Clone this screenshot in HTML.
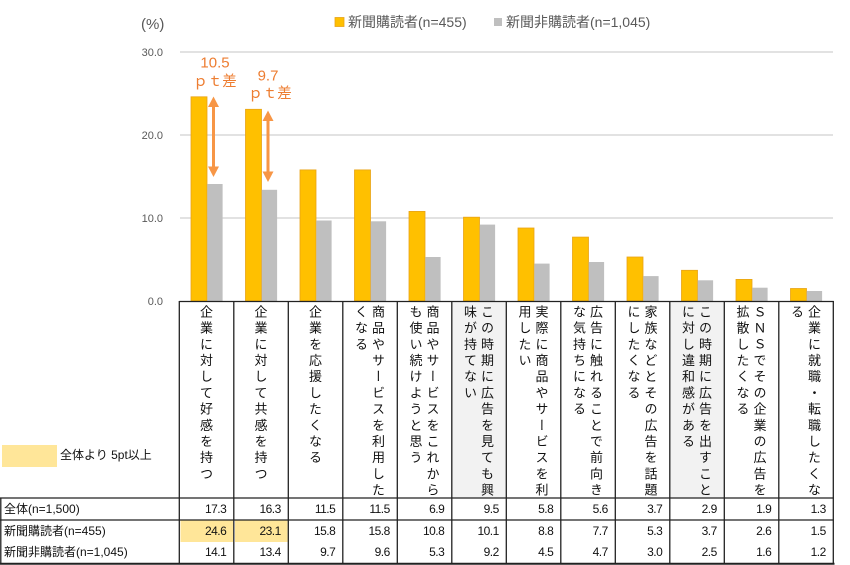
<!DOCTYPE html>
<html>
<head>
<meta charset="utf-8">
<style>
  html,body{margin:0;padding:0;background:#fff;}
  #wrap{position:relative;width:850px;height:565px;overflow:hidden;background:#fff;
    font-family:"Liberation Sans","Noto Sans CJK JP",sans-serif;}
  svg{position:absolute;left:0;top:0;}
  .hc{position:absolute;top:302px;height:195px;width:54.5px;display:flex;justify-content:center;overflow:hidden;}
  .vt{writing-mode:vertical-rl;font-family:"Noto Sans CJK JP","Liberation Sans",sans-serif;font-size:13px;line-height:17px;letter-spacing:3.2px;white-space:nowrap;padding-top:3px;color:#111;height:192px;overflow:hidden;}
  .rl{position:absolute;left:4px;font-size:12px;color:#111;line-height:14px;white-space:nowrap;}
  .val{position:absolute;width:47px;text-align:right;font-size:12px;letter-spacing:-0.5px;color:#111;line-height:14px;}
</style>
</head>
<body>
<div id="wrap">
<svg width="850" height="565" viewBox="0 0 850 565" xmlns="http://www.w3.org/2000/svg" font-family="Liberation Sans, Noto Sans CJK JP, sans-serif">
  <!-- gridlines -->
  <g stroke="#d9d9d9" stroke-width="1.5">
    <line x1="180" y1="52" x2="833" y2="52"/>
    <line x1="180" y1="135" x2="833" y2="135"/>
    <line x1="180" y1="218" x2="833" y2="218"/>
  </g>
  <!-- y tick labels -->
  <g font-size="11" fill="#595959" text-anchor="end">
    <text x="163" y="56">30.0</text>
    <text x="163" y="139">20.0</text>
    <text x="163" y="222">10.0</text>
    <text x="163" y="305">0.0</text>
  </g>
  <text x="141" y="29" font-size="15" fill="#595959">(%)</text>
  <!-- legend -->
  <rect x="335" y="17.5" width="9" height="9" fill="#FFC000" stroke="#E8A317" stroke-width="0.8"/>
  <text x="348" y="27" font-size="14" fill="#595959">新聞購読者(n=455)</text>
  <rect x="494" y="18" width="8" height="8" fill="#BFBFBF"/>
  <text x="506" y="27" font-size="14" fill="#595959">新聞非購読者(n=1,045)</text>

  <!-- header shading -->
  <rect x="451.8" y="302" width="54.5" height="196" fill="#f2f2f2"/>
  <rect x="669.8" y="302" width="54.5" height="196" fill="#f2f2f2"/>
  <!-- highlight cells -->
  <rect x="180.5" y="520.5" width="52.5" height="21.5" fill="#FFE699"/>
  <rect x="235" y="520.5" width="52.5" height="21.5" fill="#FFE699"/>
  <!-- legend box -->
  <rect x="2" y="445" width="55" height="22" fill="#FFE699"/>

  <!-- bars -->
  <g fill="#FFC000" stroke="#E8A317" stroke-width="0.8">
    <rect x="191" y="96.8" width="16" height="204.2"/>
    <rect x="245.5" y="109.3" width="16" height="191.7"/>
    <rect x="300" y="169.9" width="16" height="131.1"/>
    <rect x="354.5" y="169.9" width="16" height="131.1"/>
    <rect x="409" y="211.4" width="16" height="89.6"/>
    <rect x="463.5" y="217.2" width="16" height="83.8"/>
    <rect x="518" y="228" width="16" height="73"/>
    <rect x="572.5" y="237.1" width="16" height="63.9"/>
    <rect x="627" y="257" width="16" height="44"/>
    <rect x="681.5" y="270.3" width="16" height="30.7"/>
    <rect x="736" y="279.4" width="16" height="21.6"/>
    <rect x="790.5" y="288.5" width="16" height="12.5"/>
  </g>
  <g fill="#BFBFBF">
    <rect x="207.3" y="184" width="15.3" height="117"/>
    <rect x="261.8" y="189.8" width="15.3" height="111.2"/>
    <rect x="316.3" y="220.5" width="15.3" height="80.5"/>
    <rect x="370.8" y="221.3" width="15.3" height="79.7"/>
    <rect x="425.3" y="257" width="15.3" height="44"/>
    <rect x="479.8" y="224.6" width="15.3" height="76.4"/>
    <rect x="534.3" y="263.6" width="15.3" height="37.4"/>
    <rect x="588.8" y="262" width="15.3" height="39"/>
    <rect x="643.3" y="276.1" width="15.3" height="24.9"/>
    <rect x="697.8" y="280.3" width="15.3" height="20.7"/>
    <rect x="752.3" y="287.7" width="15.3" height="13.3"/>
    <rect x="806.8" y="291" width="15.3" height="10"/>
  </g>

  <!-- arrows -->
  <g stroke="#F79646" stroke-width="3" fill="#F79646">
    <line x1="213.5" y1="105" x2="213.5" y2="169"/>
    <line x1="268" y1="119" x2="268" y2="174"/>
  </g>
  <g fill="#F79646">
    <polygon points="213.5,96.5 208,107 219,107"/>
    <polygon points="213.5,177 208,166.5 219,166.5"/>
    <polygon points="268,110.5 262.5,121 273.5,121"/>
    <polygon points="268,182 262.5,171.5 273.5,171.5"/>
  </g>
  <!-- annotation text -->
  <g fill="#ED7D31" text-anchor="middle">
    <text x="215" y="67.5" font-size="15">10.5</text>
    <text x="215" y="86" font-size="14.5">ｐｔ差</text>
    <text x="268" y="80.5" font-size="15">9.7</text>
    <text x="270" y="98" font-size="14.5">ｐｔ差</text>
  </g>

  <!-- table lines -->
  <g stroke="#222" stroke-width="1.3" fill="none">
    <line x1="179.3" y1="301.5" x2="833.8" y2="301.5"/>
    <line x1="0" y1="498" x2="833.8" y2="498"/>
    <line x1="0" y1="520" x2="833.8" y2="520"/>
    <line x1="0.8" y1="498" x2="0.8" y2="564"/>
    <line x1="179.3" y1="301" x2="179.3" y2="564"/>
    <line x1="233.8" y1="301" x2="233.8" y2="564"/>
    <line x1="288.3" y1="301" x2="288.3" y2="564"/>
    <line x1="342.8" y1="301" x2="342.8" y2="564"/>
    <line x1="397.3" y1="301" x2="397.3" y2="564"/>
    <line x1="451.8" y1="301" x2="451.8" y2="564"/>
    <line x1="506.3" y1="301" x2="506.3" y2="564"/>
    <line x1="560.8" y1="301" x2="560.8" y2="564"/>
    <line x1="615.3" y1="301" x2="615.3" y2="564"/>
    <line x1="669.8" y1="301" x2="669.8" y2="564"/>
    <line x1="724.3" y1="301" x2="724.3" y2="564"/>
    <line x1="778.8" y1="301" x2="778.8" y2="564"/>
    <line x1="833.3" y1="301" x2="833.3" y2="564"/>
  </g>
  <line x1="0" y1="563.8" x2="834.5" y2="563.8" stroke="#222" stroke-width="2"/>
</svg>

<!-- header vertical labels -->
<div class="hc" style="left:179.3px"><div class="vt">企業に対して好感を持つ</div></div>
<div class="hc" style="left:233.8px"><div class="vt">企業に対して共感を持つ</div></div>
<div class="hc" style="left:288.3px"><div class="vt">企業を応援したくなる</div></div>
<div class="hc" style="left:342.8px"><div class="vt">商品やサービスを利用した<br>くなる</div></div>
<div class="hc" style="left:397.3px"><div class="vt">商品やサービスをこれから<br>も使い続けようと思う</div></div>
<div class="hc" style="left:451.8px"><div class="vt">この時期に広告を見ても興<br>味が持てない</div></div>
<div class="hc" style="left:506.3px"><div class="vt">実際に商品やサービスを利<br>用したい</div></div>
<div class="hc" style="left:560.8px"><div class="vt">広告に触れることで前向き<br>な気持ちになる</div></div>
<div class="hc" style="left:615.3px"><div class="vt">家族などとその広告を話題<br>にしたくなる</div></div>
<div class="hc" style="left:669.8px"><div class="vt">この時期に広告を出すこと<br>に対し違和感がある</div></div>
<div class="hc" style="left:724.3px"><div class="vt">ＳＮＳでその企業の広告を<br>拡散したくなる</div></div>
<div class="hc" style="left:778.8px"><div class="vt">企業に就職・転職したくな<br>る</div></div>

<!-- legend label -->
<div class="rl" style="left:60px;top:448px;">全体より 5pt以上</div>

<!-- row labels -->
<div class="rl" style="top:502px;">全体(n=1,500)</div>
<div class="rl" style="top:524px;">新聞購読者(n=455)</div>
<div class="rl" style="top:545px;">新聞非購読者(n=1,045)</div>

<!-- values row 1 -->
<div class="val" style="left:179.3px;top:502px">17.3</div>
<div class="val" style="left:233.8px;top:502px">16.3</div>
<div class="val" style="left:288.3px;top:502px">11.5</div>
<div class="val" style="left:342.8px;top:502px">11.5</div>
<div class="val" style="left:397.3px;top:502px">6.9</div>
<div class="val" style="left:451.8px;top:502px">9.5</div>
<div class="val" style="left:506.3px;top:502px">5.8</div>
<div class="val" style="left:560.8px;top:502px">5.6</div>
<div class="val" style="left:615.3px;top:502px">3.7</div>
<div class="val" style="left:669.8px;top:502px">2.9</div>
<div class="val" style="left:724.3px;top:502px">1.9</div>
<div class="val" style="left:778.8px;top:502px">1.3</div>
<!-- values row 2 -->
<div class="val" style="left:179.3px;top:524px">24.6</div>
<div class="val" style="left:233.8px;top:524px">23.1</div>
<div class="val" style="left:288.3px;top:524px">15.8</div>
<div class="val" style="left:342.8px;top:524px">15.8</div>
<div class="val" style="left:397.3px;top:524px">10.8</div>
<div class="val" style="left:451.8px;top:524px">10.1</div>
<div class="val" style="left:506.3px;top:524px">8.8</div>
<div class="val" style="left:560.8px;top:524px">7.7</div>
<div class="val" style="left:615.3px;top:524px">5.3</div>
<div class="val" style="left:669.8px;top:524px">3.7</div>
<div class="val" style="left:724.3px;top:524px">2.6</div>
<div class="val" style="left:778.8px;top:524px">1.5</div>
<!-- values row 3 -->
<div class="val" style="left:179.3px;top:545px">14.1</div>
<div class="val" style="left:233.8px;top:545px">13.4</div>
<div class="val" style="left:288.3px;top:545px">9.7</div>
<div class="val" style="left:342.8px;top:545px">9.6</div>
<div class="val" style="left:397.3px;top:545px">5.3</div>
<div class="val" style="left:451.8px;top:545px">9.2</div>
<div class="val" style="left:506.3px;top:545px">4.5</div>
<div class="val" style="left:560.8px;top:545px">4.7</div>
<div class="val" style="left:615.3px;top:545px">3.0</div>
<div class="val" style="left:669.8px;top:545px">2.5</div>
<div class="val" style="left:724.3px;top:545px">1.6</div>
<div class="val" style="left:778.8px;top:545px">1.2</div>
</div>
</body>
</html>
